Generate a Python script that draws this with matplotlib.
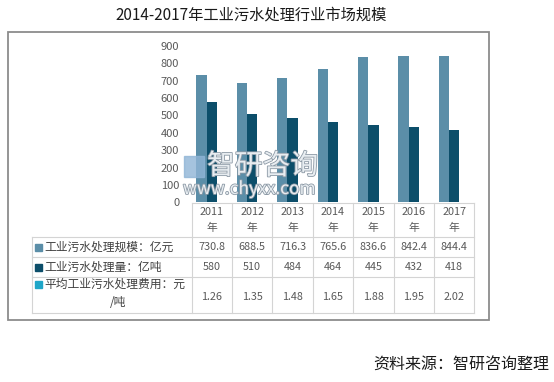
import matplotlib.pyplot as plt
import matplotlib.patheffects as pe
import numpy as np
from matplotlib.patches import Rectangle

plt.rcParams['font.family'] = ['Noto Sans CJK SC', 'DejaVu Sans']

# data
years = ["2011", "2012", "2013", "2014", "2015", "2016", "2017"]
scale = [730.8, 688.5, 716.3, 765.6, 836.6, 842.4, 844.4]      # 亿元
volume = [580, 510, 484, 464, 445, 432, 418]                    # 亿吨
cost = [1.26, 1.35, 1.48, 1.65, 1.88, 1.95, 2.02]               # 元/吨
series_names = ["工业污水处理规模：亿元", "工业污水处理量：亿吨", "平均工业污水处理费用：元"]
cell_text = [["730.8", "688.5", "716.3", "765.6", "836.6", "842.4", "844.4"],
             ["580", "510", "484", "464", "445", "432", "418"],
             ["1.26", "1.35", "1.48", "1.65", "1.88", "1.95", "2.02"]]
colors = ["#5b8ea8", "#0c4e6a", "#1fa6c8"]

W, H = 554, 382
fig = plt.figure(figsize=(W / 100, H / 100), dpi=100)

# overlay in pixel coordinates for frame, table, titles
ov = fig.add_axes([0, 0, 1, 1])
ov.set_xlim(0, W)
ov.set_ylim(H, 0)
ov.axis("off")

# plot area (pixels)
x0, x1 = 191.7, 474.3
y0, y1 = 46.0, 202.3
ax = fig.add_axes([x0 / W, (H - y1) / H, (x1 - x0) / W, (y1 - y0) / H])
x = np.arange(len(years))
bw = 0.255
for i, (vals, c) in enumerate(zip([scale, volume, cost], colors)):
    ax.bar(x + (i - 1) * bw, vals, bw, color=c, zorder=2)
ax.set_xlim(-0.5, len(years) - 0.5)
ax.set_ylim(0, 900)
ax.set_yticks(np.arange(0, 901, 100))
ax.tick_params(axis="y", length=0, pad=9, labelsize=8, labelcolor="#595959")
ax.set_xticks([])
for s in ax.spines.values():
    s.set_visible(False)
ax.patch.set_alpha(0)

# outer frame
ov.add_patch(Rectangle((8, 31.5), 481, 288.5, fill=False, ec="#8c8c8c", lw=1.3))

# table
col_w = (x1 - x0) / len(years)
rows = [203.3, 237.3, 257.3, 277.3, 313.3]
lc = "#d4d4d4"
for r in rows[1:]:
    ov.plot([31.7, x1], [r, r], color=lc, lw=0.8)
ov.plot([31.7, 31.7], [rows[1], rows[-1]], color=lc, lw=0.8)
for j in range(len(years) + 1):
    ov.plot([x0 + j * col_w] * 2, [rows[0], rows[-1]], color=lc, lw=0.8)
ov.plot([x0, x1], [rows[0], rows[0]], color=lc, lw=0.8)

txt = dict(color="#595959", fontsize=7.8, ha="center", va="center")
for j, yr in enumerate(years):
    cx = x0 + (j + 0.5) * col_w
    ov.text(cx, 212, yr, **txt)
    ov.text(cx, 228, "年", **txt)
    for i in range(3):
        ov.text(cx, (rows[i + 1] + rows[i + 2]) / 2 + (2 if i == 2 else 0), cell_text[i][j], **txt)

label_y = [247.3, 267.3, 284.5]
for i in range(3):
    cy = label_y[i]
    ov.add_patch(Rectangle((34.5, cy - 3.5), 7, 7, color=colors[i]))
    ov.text(44, cy, series_names[i], color="#404040", fontsize=8.5, ha="left", va="center")
ov.text(118, 302, "/吨", color="#404040", fontsize=8.5, ha="center", va="center")

# watermark, drawn on top of the bars
wm = [pe.withStroke(linewidth=1.2, foreground="#8d9aa6")]
fig.add_artist(Rectangle((184, 156), 20, 21, color="#8fb4d6", alpha=0.8,
                         transform=ov.transData, zorder=5))
fig.text(207, 166, "智研咨询", color="#e8edf1", fontsize=20, ha="left", va="center",
         transform=ov.transData, zorder=5, path_effects=wm)
fig.text(183, 189, "www.chyxx.com", color="#e8edf1", fontsize=12.5, ha="left", va="center",
         transform=ov.transData, zorder=5, path_effects=wm)

ov.text(251, 15, "2014-2017年工业污水处理行业市场规模", fontsize=11, ha="center", va="center", color="#1a1a1a")
ov.text(549, 365, "资料来源：智研咨询整理", fontsize=11.5, ha="right", va="center", color="#1a1a1a")

fig.savefig("out.png", dpi=100)
